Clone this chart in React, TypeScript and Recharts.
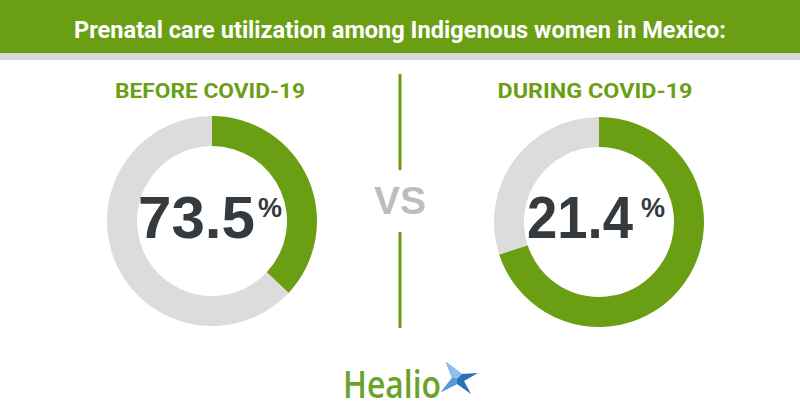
import { Cell, Pie, PieChart } from 'recharts';

// what each ring says, and how much of it is drawn green vs grey
const periods = ['BEFORE COVID-19', 'DURING COVID-19'];
const headline = ['73.5', '21.4'];
const greenShare = [37, 70];
const greyShare = [63, 30];

const GREEN = '#6a9f14';
const GREY = '#dcdcdc';
const DARK = '#343a3e';

const centers = [
  { x: 207, y: 216 },
  { x: 594, y: 217 },
];

export default function App() {
  const rings = periods.map((name, i) => [
    { name: 'green', value: greenShare[i] },
    { name: 'grey', value: greyShare[i] },
  ]);

  return (
    <div style={{ position: 'absolute', left: 0, top: 0, width: 800, height: 420, background: '#fff', overflow: 'hidden' }}>
      <div style={{ position: 'absolute', left: 0, top: 0, width: 800, height: 53, background: GREEN }} />
      <div style={{ position: 'absolute', left: 0, top: 53, width: 800, height: 7, background: '#d9d9d9' }} />

      <div style={{ position: 'absolute', left: 0, top: 0 }}>
        <PieChart width={800} height={420}>
          {rings.map((data, i) => (
            <Pie
              key={periods[i]}
              data={data}
              dataKey="value"
              nameKey="name"
              cx={centers[i].x}
              cy={centers[i].y}
              innerRadius={75}
              outerRadius={105}
              startAngle={90}
              endAngle={-270}
              stroke="none"
              isAnimationActive={false}
            >
              <Cell fill={GREEN} />
              <Cell fill={GREY} />
            </Pie>
          ))}
        </PieChart>
      </div>

      <svg width={800} height={420} style={{ position: 'absolute', left: 0, top: 0, pointerEvents: 'none' }}>
        <text
          x={400}
          y={38}
          textAnchor="middle"
          fill="#fff"
          fontFamily="Roboto, sans-serif"
          fontWeight={700}
          fontSize={24}
          textLength={652}
          lengthAdjust="spacingAndGlyphs"
        >
          Prenatal care utilization among Indigenous women in Mexico:
        </text>

        {periods.map((p, i) => (
          <g key={p}>
            <text
              x={centers[i].x + (i === 0 ? 3 : 1)}
              y={98}
              textAnchor="middle"
              fill={GREEN}
              fontFamily="Roboto, sans-serif"
              fontWeight={700}
              fontSize={21}
              textLength={i === 0 ? 190 : 195}
              lengthAdjust="spacingAndGlyphs"
            >
              {p}
            </text>
            <text
              x={centers[i].x + (i === 0 ? -69 : -67)}
              y={238}
              fill={DARK}
              fontFamily="'Liberation Sans', Arial, sans-serif"
              fontWeight={700}
              fontSize={60}
              textLength={i === 0 ? 117 : 106}
              lengthAdjust="spacingAndGlyphs"
            >
              {headline[i]}
            </text>
            <text
              x={centers[i].x + (i === 0 ? 51 : 47)}
              y={217}
              fill={DARK}
              fontFamily="'Liberation Sans', Arial, sans-serif"
              fontWeight={700}
              fontSize={27}
            >
              %
            </text>
          </g>
        ))}

        <line x1={400} y1={74} x2={400} y2={170} stroke={GREEN} strokeWidth={3} />
        <line x1={400} y1={232} x2={400} y2={328} stroke={GREEN} strokeWidth={3} />
        <text
          x={400}
          y={214}
          textAnchor="middle"
          fill="#bdbdbd"
          fontFamily="'Liberation Sans', Arial, sans-serif"
          fontWeight={700}
          fontSize={39}
        >
          VS
        </text>

        <text
          x={343}
          y={398}
          fill="#6aa32a"
          fontFamily="'Open Sans', sans-serif"
          fontWeight={600}
          fontSize={37}
          textLength={98}
          lengthAdjust="spacingAndGlyphs"
        >
          Healio
        </text>
        {/* compass-star mark */}
        <polygon points="446,362 462,374 478,373 464,381 471,394 457,384 441,392 452,378" fill="#2f6fb8" />
        <polygon points="446,362 462,374 457,379 452,378" fill="#8fc0ea" />
        <polygon points="457,384 441,392 452,378 457,379" fill="#5a9ad6" />
      </svg>
    </div>
  );
}
